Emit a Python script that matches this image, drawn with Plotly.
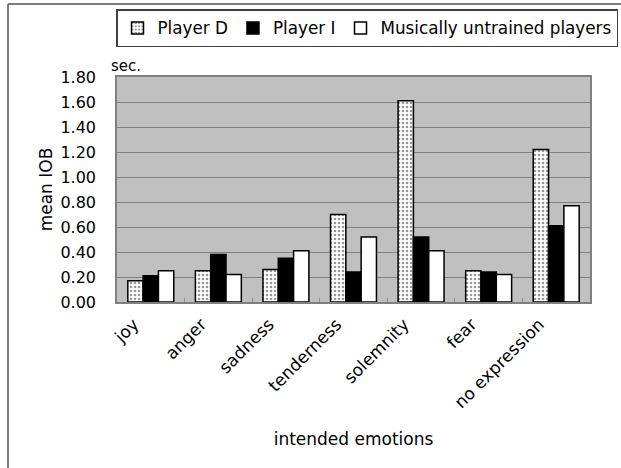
import plotly.graph_objects as go

categories = ["joy", "anger", "sadness", "tenderness", "solemnity", "fear", "no expression"]
player_d = [0.17, 0.25, 0.26, 0.70, 1.61, 0.25, 1.22]
player_i = [0.21, 0.38, 0.35, 0.24, 0.52, 0.24, 0.61]
untrained = [0.25, 0.22, 0.41, 0.52, 0.41, 0.22, 0.77]
y_ticks = [0.0, 0.2, 0.4, 0.6, 0.8, 1.0, 1.2, 1.4, 1.6, 1.8]

FONT = "DejaVu Sans"

fig = go.Figure()
fig.add_trace(go.Bar(
    name="Player D", x=categories, y=player_d,
    marker=dict(color="white", line=dict(color="black", width=1.5),
                pattern=dict(shape=".", fgcolor="#333333", bgcolor="white", size=4, solidity=0.35)),
))
fig.add_trace(go.Bar(
    name="Player I", x=categories, y=player_i,
    marker=dict(color="black", line=dict(color="black", width=1.5)),
))
fig.add_trace(go.Bar(
    name="Musically untrained players", x=categories, y=untrained,
    marker=dict(color="white", line=dict(color="black", width=1.5)),
))

L, R, T, B = 117, 590, 77, 302
W, H = 621, 468
pw, ph = R - L, B - T

def px(x):
    return (x - L) / pw

def py(y):
    return (B - y) / ph

fig.update_layout(
    width=W, height=H,
    margin=dict(l=L, r=W - R, t=T, b=H - B, autoexpand=False),
    paper_bgcolor="white",
    plot_bgcolor="#c0c0c0",
    font=dict(family=FONT, size=16, color="black"),
    barmode="group",
    bargap=0.32,
    bargroupgap=0.0,
    showlegend=True,
    legend=dict(
        orientation="h", xref="paper", yref="paper",
        x=px(116), y=py(9), xanchor="left", yanchor="top",
        bordercolor="#404040", borderwidth=1.5, bgcolor="white",
        font=dict(family=FONT, size=16.8), itemwidth=30, tracegroupgap=0,
    ),
    xaxis=dict(
        type="category", tickangle=-45, showgrid=False,
        ticks="inside", tickson="boundaries", ticklen=4, tickcolor="#909090",
        showline=True, linecolor="#808080", linewidth=1.5, mirror=True,
        tickfont=dict(size=17), ticklabelshift=-17, ticklabelstandoff=4,
        title=dict(text="intended emotions", font=dict(size=17), standoff=22),
    ),
    yaxis=dict(
        range=[0, 1.8], tickvals=y_ticks, tickformat=".2f",
        showgrid=True, gridcolor="#808080", gridwidth=1,
        showline=True, linecolor="#808080", linewidth=1.5, mirror=True,
        ticks="", tickfont=dict(size=16), zeroline=False, ticklabelstandoff=16,
        title=dict(text="mean IOB", font=dict(size=17), standoff=3),
    ),
    annotations=[
        dict(text="sec.", xref="paper", yref="paper", x=px(109), y=py(66),
             xanchor="left", yanchor="middle", showarrow=False, font=dict(size=15)),
    ],
    shapes=[
        dict(type="line", xref="paper", yref="paper", x0=px(8), x1=px(622), y0=py(4), y1=py(4),
             line=dict(color="#505050", width=1.5)),
        dict(type="line", xref="paper", yref="paper", x0=px(8), x1=px(8), y0=py(4), y1=py(468),
             line=dict(color="#505050", width=1.5)),
    ],
)

fig.write_html("out.html", config={"displayModeBar": False},
               post_script="document.body.style.margin='0';")
